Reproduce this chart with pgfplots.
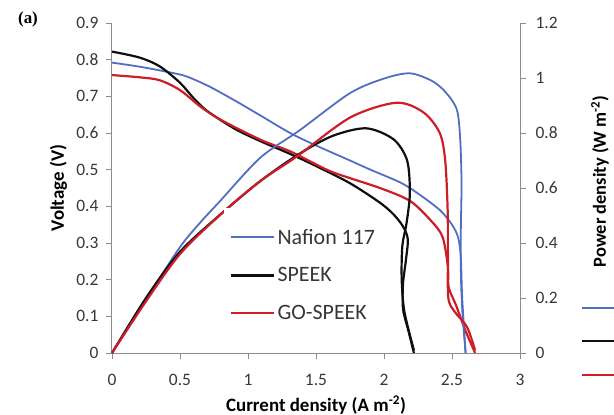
\documentclass[border=0pt]{standalone}
\usepackage{pgfplots}
\pgfplotsset{compat=1.18}
\usepackage{fontspec}
\setmainfont{Carlito}
\newfontfamily\serifb{Liberation Serif}
\definecolor{naf}{RGB}{80,110,195}
\definecolor{spk}{RGB}{15,15,15}
\definecolor{gos}{RGB}{205,30,40}
\definecolor{axg}{RGB}{140,140,140}
\definecolor{txg}{RGB}{55,55,55}
\begin{document}
\begin{tikzpicture}
\useasboundingbox (-112bp,-62bp) rectangle (502bp,353bp);
\pgfplotsset{
  every axis/.append style={
    scale only axis, width=408bp, height=330bp, at={(0,0)}, anchor=south west,
    xmin=0, xmax=3, clip=false, tick align=outside, major tick length=6bp,
    tick style={axg, line width=0.8bp},
    axis line style={axg, line width=1bp},
    tick label style={font=\fontsize{17.5}{17.5}\selectfont, text=txg},
    /pgf/number format/assume math mode=true,
  },
}
\begin{axis}[
  axis x line*=bottom, axis y line*=left,
  xtick pos=bottom, ytick pos=left,
  ymin=0, ymax=0.9,
  xtick={0,0.5,1,1.5,2,2.5,3},
  ytick={0,0.1,0.2,0.3,0.4,0.5,0.6,0.7,0.8,0.9},
  xticklabel style={yshift=-12bp},
  yticklabel style={xshift=-4bp},
  xlabel={Current density (A m\textsuperscript{-2})},
  ylabel={Voltage (V)},
  every axis x label/.style={at={(axis description cs:0.5,-0.158)}, anchor=center,
    font=\bfseries\fontsize{19}{19}\selectfont, text=black},
  every axis y label/.style={at={(axis description cs:-0.131,0.5)}, rotate=90, anchor=center,
    font=\bfseries\fontsize{19}{19}\selectfont, text=black},
  every axis plot/.append style={smooth, tension=0.5},
]
\addplot[naf, line width=1.8bp] coordinates {
(0,0.792) (0.2,0.781) (0.43,0.765) (0.55,0.754) (0.72,0.726) (0.92,0.685)
(1.09,0.648) (1.31,0.600) (1.5,0.566) (1.75,0.525) (1.9,0.500) (2.12,0.465)
(2.25,0.435) (2.41,0.390) (2.5,0.350) (2.545,0.315) (2.565,0.26) (2.575,0.15) (2.6,0)};
\addplot[spk, line width=2.2bp] coordinates {
(0,0.822) (0.2,0.806) (0.35,0.782) (0.5,0.737) (0.6,0.695) (0.7,0.660)
(0.9,0.612) (1.09,0.578) (1.31,0.543) (1.5,0.510) (1.75,0.463) (1.97,0.410)
(2.07,0.378) (2.14,0.345) (2.175,0.31) (2.16,0.25) (2.14,0.19) (2.14,0.12)
(2.18,0.06) (2.22,0)};
\addplot[gos, line width=2.2bp] coordinates {
(0,0.758) (0.2,0.752) (0.35,0.744) (0.5,0.717) (0.65,0.672) (0.8,0.636)
(1.09,0.582) (1.31,0.550) (1.46,0.522) (1.63,0.492) (1.97,0.450) (2.19,0.415)
(2.34,0.363) (2.43,0.317) (2.47,0.235) (2.475,0.18) (2.53,0.13) (2.6,0.06) (2.67,0)};
\end{axis}
\begin{axis}[
  axis x line=none, axis y line*=right,
  ytick pos=right,
  ymin=0, ymax=1.2,
  ytick={0,0.2,0.4,0.6,0.8,1,1.2},
  yticklabel style={xshift=6bp},
  ylabel={Power density (W m\textsuperscript{-2})},
  every axis y label/.style={at={(axis description cs:1.196,0.52)}, rotate=90, anchor=center,
    font=\bfseries\fontsize{18.5}{18.5}\selectfont, text=black},
  every axis plot/.append style={smooth, tension=0.5},
  legend style={draw=none, fill=white, at={(0.275,0.44)}, anchor=north west,
    font=\fontsize{22}{22}\selectfont, text=txg, row sep=18bp,
    inner xsep=6bp, inner ysep=19bp},
  legend cell align=left,
  legend image code/.code={\draw[#1] (0bp,0bp) -- (43bp,0bp);},
]
\addplot[naf, line width=1.8bp] coordinates {
(0,0) (0.25,0.195) (0.5,0.385) (0.65,0.475) (0.79,0.55) (1.09,0.71) (1.38,0.81)
(1.75,0.945) (2.0,0.998) (2.19,1.017) (2.35,0.99) (2.45,0.95) (2.535,0.886)
(2.56,0.78) (2.57,0.62) (2.565,0.45) (2.565,0.3) (2.575,0.16) (2.6,0)};
\addlegendentry{Nafion 117}
\addplot[spk, line width=2.2bp] coordinates {
(0,0) (0.25,0.2) (0.5,0.368) (0.8,0.505) (1.09,0.625) (1.38,0.725) (1.625,0.79)
(1.87,0.817) (2.07,0.777) (2.17,0.70) (2.19,0.58) (2.165,0.47) (2.135,0.39)
(2.13,0.27) (2.15,0.15) (2.22,0.01)};
\addlegendentry{SPEEK}
\addplot[gos, line width=2.2bp] coordinates {
(0,0) (0.25,0.188) (0.5,0.36) (0.79,0.50) (1.09,0.625) (1.36,0.715) (1.75,0.856)
(2.09,0.91) (2.29,0.875) (2.41,0.80) (2.45,0.70) (2.468,0.52) (2.47,0.35)
(2.473,0.2) (2.52,0.15) (2.61,0.095) (2.67,0.01)};
\addlegendentry{GO-SPEEK}
\end{axis}
\draw[naf, line width=2bp] (470bp,45bp) -- (506bp,45bp);
\draw[spk, line width=2.6bp] (470bp,12bp) -- (506bp,12bp);
\draw[gos, line width=2.6bp] (470bp,-22bp) -- (506bp,-22bp);
\node[font=\serifb\bfseries\fontsize{17}{17}\selectfont] at (-84bp,334bp) {(a)};
\end{tikzpicture}
\end{document}
